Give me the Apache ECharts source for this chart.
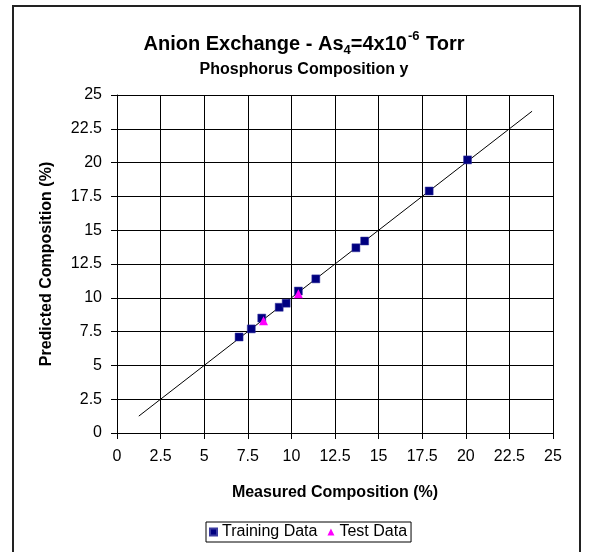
<!DOCTYPE html>
<html>
<head>
<meta charset="utf-8">
<script src="https://cdn.jsdelivr.net/npm/echarts@6/dist/echarts.min.js"></script>
<style>
  html, body { margin: 0; padding: 0; background: #fff; }
  #chart { width: 593px; height: 552px; }
</style>
</head>
<body>
<div id="chart"></div>
<script>
// measured vs predicted phosphorus composition (%)
var trainingMeasured = [7.0, 7.7, 8.3, 9.3, 9.7, 10.4, 11.4, 13.7, 14.2, 17.9, 20.1]
var trainingPredicted = [7.1, 7.7, 8.5, 9.3, 9.6, 10.5, 11.4, 13.7, 14.2, 17.9, 20.2]
var testMeasured = [8.4, 10.4]
var testPredicted = [8.3, 10.3]
var fitLine = [1.25, 23.8]

var fontFamily = 'Liberation Sans, Arial, sans-serif'

function pairs(xs, ys) {
  var out = []
  for (var i = 0; i < xs.length; i++) {
    out.push([xs[i], ys[i]])
  }
  return out
}

var chart = echarts.init(document.getElementById('chart'))

var axisCommon = {
  type: 'value',
  min: 0,
  max: 25,
  interval: 2.5,
  nameLocation: 'middle',
  nameTextStyle: {
    fontFamily: fontFamily,
    fontSize: 16,
    fontWeight: 'bold',
    color: '#000'
  },
  axisLine: { show: true, onZero: false, lineStyle: { color: '#000', width: 1 } },
  axisTick: { show: true, inside: false, length: 6, lineStyle: { color: '#000' } },
  axisLabel: { fontFamily: fontFamily, fontSize: 16, color: '#000' },
  splitLine: { show: true, lineStyle: { color: '#000', width: 1 } }
}

var titleFont = { fontFamily: fontFamily, fontWeight: 'bold', color: '#000' }

chart.setOption({
  animation: false,
  title: [
    {
      text: '{t|Anion Exchange - As}{sub|4}{t|=4x10}{sup|-6}{t| Torr}',
      left: 304,
      top: 30,
      textAlign: 'center',
      padding: 0,
      textStyle: {
        rich: {
          t: Object.assign({ fontSize: 20, lineHeight: 24, verticalAlign: 'bottom' }, titleFont),
          sub: Object.assign({ fontSize: 13, lineHeight: 24, verticalAlign: 'bottom', padding: [0, 0, -3, 0] }, titleFont),
          sup: Object.assign({ fontSize: 13, lineHeight: 24, verticalAlign: 'top', padding: [0, 1, 8, 1] }, titleFont)
        }
      }
    },
    {
      text: 'Phosphorus Composition y',
      left: 304,
      top: 62,
      textAlign: 'center',
      padding: 0,
      textStyle: Object.assign({ fontSize: 16 }, titleFont)
    }
  ],
  grid: {
    left: 117,
    right: 40,
    top: 95,
    bottom: 119
  },
  legend: {
    data: [
      { name: 'Training Data', icon: 'rect' },
      { name: 'Test Data', icon: 'triangle' }
    ],
    left: 206,
    top: 522,
    itemWidth: 7,
    itemHeight: 7,
    itemGap: 10,
    padding: [2, 4, 2, 3],
    borderColor: '#000',
    borderWidth: 1,
    borderRadius: 0,
    textStyle: { fontFamily: fontFamily, fontSize: 16, lineHeight: 16, color: '#000' }
  },
  xAxis: Object.assign({}, axisCommon, {
    name: 'Measured Composition (%)',
    nameGap: 52,
    axisLabel: Object.assign({}, axisCommon.axisLabel, { margin: 16 })
  }),
  yAxis: Object.assign({}, axisCommon, {
    name: 'Predicted Composition (%)',
    nameGap: 62,
    axisLabel: Object.assign({}, axisCommon.axisLabel, { margin: 15 })
  }),
  series: [
    {
      name: 'Fit',
      type: 'line',
      data: pairs(fitLine, fitLine),
      symbol: 'none',
      silent: true,
      lineStyle: { color: '#000', width: 1 },
      z: 2
    },
    {
      name: 'Training Data',
      type: 'scatter',
      data: pairs(trainingMeasured, trainingPredicted),
      symbol: 'rect',
      symbolSize: 8,
      itemStyle: { color: '#000080', borderColor: '#3a3aa0', borderWidth: 0.5, opacity: 1 },
      z: 3
    },
    {
      name: 'Test Data',
      type: 'scatter',
      data: pairs(testMeasured, testPredicted),
      symbol: 'triangle',
      symbolSize: 9,
      itemStyle: { color: '#ff00ff', opacity: 1 },
      z: 4
    }
  ],
  graphic: [
    {
      type: 'rect',
      shape: { x: 13, y: 6, width: 567, height: 560 },
      style: { fill: 'none', stroke: '#222', lineWidth: 2 },
      silent: true,
      z: 100
    }
  ]
})
</script>
</body>
</html>
